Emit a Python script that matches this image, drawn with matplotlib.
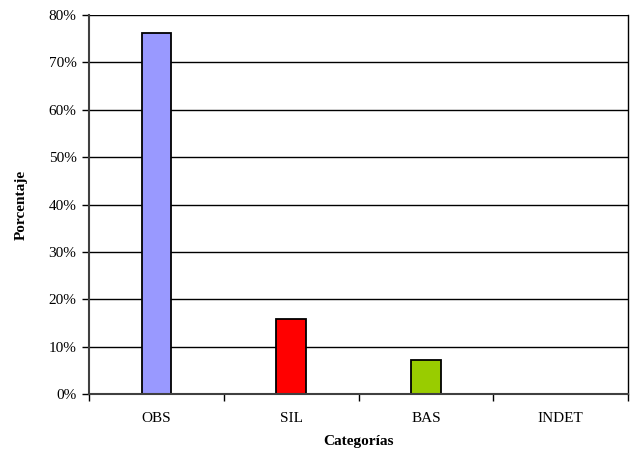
import numpy as np
from matplotlib import pyplot as plt
from matplotlib.ticker import FuncFormatter

categorias = ['OBS', 'SIL', 'BAS', 'INDET']
porcentaje = [76.1, 15.9, 7.1, 0.0]
colores = ['#9999FF', '#FF0000', '#99CC00', '#FFFFFF']

plt.rcParams['font.family'] = ['Liberation Serif', 'DejaVu Serif']

fig = plt.figure(figsize=(6.3, 4.51), dpi=100)
ax = fig.add_axes([0.1413, 0.1264, 0.8556, 0.8403])

x = np.arange(len(categorias))
# sin borde para las barras de altura cero
bordes = ['black' if v > 0 else 'none' for v in porcentaje]
ax.bar(x, porcentaje, width=0.22, color=colores, edgecolor=bordes, linewidth=1.3, zorder=3)

ax.set_xlim(-0.5, len(categorias) - 0.5)
ax.set_ylim(0, 80)
ax.set_yticks(np.arange(0, 81, 10))
ax.yaxis.set_major_formatter(FuncFormatter(lambda v, p: '{:.0f}%'.format(v)))
ax.grid(axis='y', color='black', linewidth=1, zorder=0)

ax.set_xticks(x)
ax.set_xticklabels(categorias)
ax.set_xticks(np.arange(-0.5, len(categorias), 1), minor=True)
ax.tick_params(axis='x', which='major', length=0, pad=13, labelsize=11)
ax.tick_params(axis='x', which='minor', length=5, width=1, color='black')
ax.tick_params(axis='y', length=5, width=1, labelsize=11, pad=4)

for s in ['left', 'bottom']:
    ax.spines[s].set_color('#404040')
    ax.spines[s].set_linewidth(1.5)
    ax.spines[s].set_zorder(4)
ax.spines['right'].set_color('black')
ax.spines['right'].set_linewidth(1)
ax.spines['top'].set_visible(False)

ax.set_xlabel('Categorías', fontsize=11, fontweight='bold', labelpad=7)
ax.set_ylabel('Porcentaje', fontsize=11, fontweight='bold', labelpad=15)

fig.savefig('out.png', dpi=100)
